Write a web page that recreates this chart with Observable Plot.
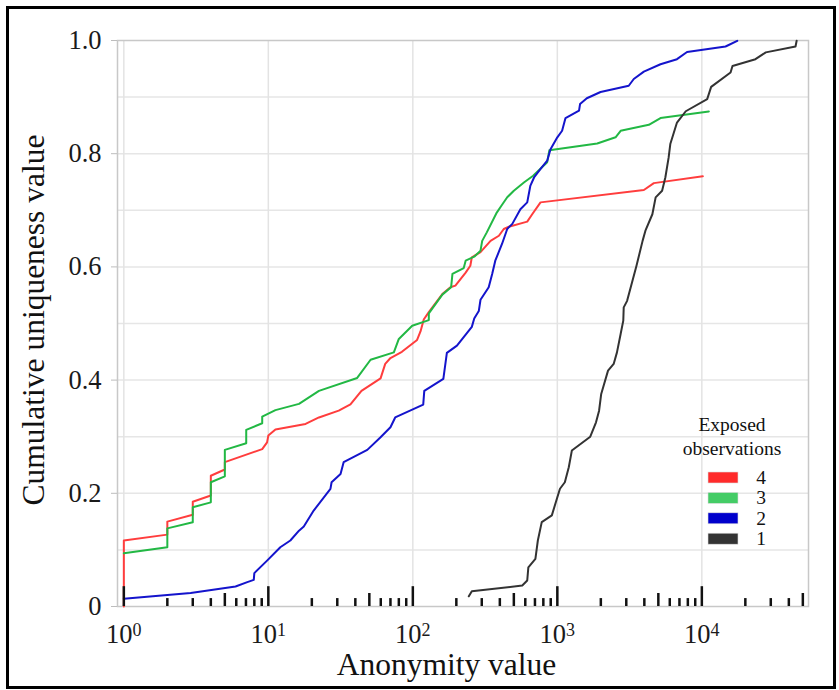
<!DOCTYPE html>
<html><head><meta charset="utf-8">
<script src="https://cdn.jsdelivr.net/npm/d3@7"></script>
<script src="https://cdn.jsdelivr.net/npm/@observablehq/plot@0.6"></script>
<style>body{margin:0;background:#fff} svg{display:block}</style>
</head><body><div id="chart"></div>
<script>
// ---- data ----
const seriesNames = ["4", "3", "2", "1"];
const lineColors = ["#ff3d3d", "#22b844", "#1414cc", "#333333"];
const swatchColors = ["#ff2a2a", "#44cc66", "#0000cc", "#333333"];

const s4x = [1, 1, 2, 2, 3, 3, 4, 4, 5, 5, 9.07, 9.8, 10, 11.2, 18.1, 22.4, 30.7, 37, 44.1, 59.8, 64.4, 70, 84, 107, 113, 119, 129, 160, 182, 197, 232, 250, 256, 294, 345, 394, 426, 462, 619, 670, 765, 3970, 4655, 10160];
const s4y = [0, 0.1165, 0.127, 0.150, 0.162, 0.185, 0.196, 0.231, 0.242, 0.255, 0.278, 0.290, 0.302, 0.3126, 0.3226, 0.334, 0.346, 0.357, 0.381, 0.403, 0.4286, 0.439, 0.450, 0.471, 0.486, 0.507, 0.520, 0.552, 0.564, 0.567, 0.590, 0.602, 0.617, 0.626, 0.646, 0.655, 0.667, 0.671, 0.680, 0.693, 0.714, 0.7358, 0.748, 0.760];

const s3x = [1, 2, 2, 3, 3, 4, 4, 5, 5, 7.03, 7.03, 9.07, 9.07, 11.2, 16.3, 22.4, 41.2, 51, 73.9, 80, 99, 129, 129, 160, 184, 188, 225, 232, 266, 294, 302, 325, 381, 410, 450, 500, 587, 680, 851, 880, 1888, 2529, 2742, 4297, 5175, 11180];
const s3y = [0.094, 0.1047, 0.138, 0.149, 0.1753, 0.184, 0.2195, 0.230, 0.2767, 0.2884, 0.312, 0.3237, 0.3355, 0.347, 0.358, 0.381, 0.4038, 0.436, 0.449, 0.4727, 0.496, 0.506, 0.518, 0.551, 0.564, 0.5875, 0.598, 0.611, 0.618, 0.6287, 0.646, 0.661, 0.696, 0.708, 0.723, 0.7346, 0.749, 0.761, 0.785, 0.806, 0.818, 0.829, 0.8405, 0.851, 0.863, 0.8746];

const s2x = [1, 2.9, 5.93, 7.15, 7.93, 8, 9.8, 12.1, 14.2, 16.3, 17.6, 20.6, 26.9, 27.4, 31.6, 33.2, 48.4, 59.8, 70, 75.5, 118, 120, 162.6, 172, 202, 256, 266, 286, 294, 335, 354, 372, 414, 450, 488, 555, 619, 650, 690, 780, 851, 897, 1000, 1079, 1139, 1413, 1436, 1600, 1991, 3120, 3380, 3970, 5175, 6730, 7900, 14590, 17580];
const s2y = [0.0136, 0.024, 0.0353, 0.043, 0.047, 0.059, 0.081, 0.1047, 0.1166, 0.134, 0.1413, 0.1695, 0.2078, 0.2195, 0.234, 0.255, 0.2767, 0.299, 0.3166, 0.334, 0.3567, 0.381, 0.402, 0.448, 0.461, 0.494, 0.509, 0.522, 0.542, 0.564, 0.5875, 0.611, 0.6405, 0.667, 0.676, 0.702, 0.714, 0.743, 0.758, 0.7757, 0.7876, 0.808, 0.829, 0.8405, 0.863, 0.876, 0.8877, 0.898, 0.909, 0.920, 0.932, 0.945, 0.958, 0.967, 0.9796, 0.9894, 0.9995];

const s1x = [244, 256, 572, 619, 630, 705, 733, 780, 916, 1000, 1043, 1127, 1200, 1260, 1690, 1852, 1945, 2012, 2243, 2454, 2586, 2742, 2860, 2880, 3040, 3530, 3890, 4070, 4546, 4790, 5310, 5590, 5890, 6050, 6730, 7740, 10890, 11600, 15800, 16300, 23500, 27700, 44500, 45300];
const s1y = [0.018, 0.027, 0.037, 0.046, 0.069, 0.084, 0.1166, 0.149, 0.161, 0.193, 0.208, 0.2195, 0.246, 0.2755, 0.300, 0.3255, 0.346, 0.3756, 0.4167, 0.4286, 0.449, 0.4815, 0.505, 0.5285, 0.540, 0.602, 0.646, 0.664, 0.693, 0.7228, 0.7346, 0.758, 0.793, 0.817, 0.855, 0.875, 0.8965, 0.918, 0.9435, 0.955, 0.967, 0.979, 0.9894, 0.9995];

const yTicks = [0, 0.2, 0.4, 0.6, 0.8, 1.0];
const yGrid = [0.1, 0.2, 0.3, 0.4, 0.5, 0.6, 0.7, 0.8, 0.9];
const xTicks = [1, 10, 100, 1000, 10000];
const rugMajor = [1, 10, 100, 1000, 10000];
const rugMid = [5, 50, 500, 5000, 50000];
const rugMinor = [2, 3, 4, 6, 7, 8, 9, 20, 30, 40, 60, 70, 80, 90, 200, 300, 400, 600, 700, 800, 900, 2000, 3000, 4000, 6000, 7000, 8000, 9000, 20000, 30000, 40000];

// ---- build table ----
const seriesX = [s4x, s3x, s2x, s1x];
const seriesY = [s4y, s3y, s2y, s1y];
const rows = [];
seriesNames.forEach((name, k) => {
  seriesX[k].forEach((x, i) => rows.push({series: name, x, y: seriesY[k][i]}));
});

const serif = "'Liberation Serif', 'Times New Roman', serif";

const plot = Plot.plot({
  width: 839,
  height: 690,
  marginLeft: 117,
  marginRight: 31,
  marginTop: 40,
  marginBottom: 84,
  style: {fontFamily: serif, fontSize: "26.5px", color: "#1a1a1a", background: "#fff"},
  x: {type: "log", domain: [0.904, 54720]},
  y: {domain: [0, 1]},
  color: {domain: seriesNames, range: lineColors},
  marks: [
    Plot.ruleY(yGrid, {stroke: "#e6e6e6", strokeWidth: 1.5}),
    Plot.ruleX(xTicks, {stroke: "#e3e3e3", strokeWidth: 1.5}),
    Plot.frame({stroke: "#c8c8c8", strokeWidth: 1.5}),
    Plot.axisY({ticks: yTicks, tickSize: 6, tickPadding: 10, stroke: "#bdbdbd",
      tickFormat: d => d === 0 ? "0" : d.toFixed(1), label: null}),
    Plot.axisX({ticks: xTicks, tickSize: 0, tickPadding: 18,
      tickFormat: d => "10|" + Math.round(Math.log10(d)), label: null}),
    Plot.line(rows, {x: "x", y: "y", z: "series", stroke: "series", strokeWidth: 2, strokeLinejoin: "round"}),
    Plot.ruleX(rugMajor, {x: d => d, y1: 0, y2: 0.035, stroke: "#111", strokeWidth: 2.5}),
    Plot.ruleX(rugMid, {x: d => d, y1: 0, y2: 0.023, stroke: "#111", strokeWidth: 2.5}),
    Plot.ruleX(rugMinor, {x: d => d, y1: 0, y2: 0.014, stroke: "#111", strokeWidth: 2.5})
  ]
});
document.getElementById("chart").appendChild(plot);

const svg = d3.select(plot);

// superscript tick labels 10^k
svg.selectAll('[aria-label="x-axis tick label"] text').each(function() {
  const t = d3.select(this);
  const parts = t.text().split("|");
  t.text(parts[0]);
  t.append("tspan").attr("dy", "-0.42em").attr("font-size", "18px").text(parts[1]);
});

// axis titles
svg.append("text")
  .attr("transform", "translate(43.5,320) rotate(-90)")
  .attr("text-anchor", "middle")
  .attr("font-family", serif).attr("font-size", 31.5).attr("fill", "#111")
  .text("Cumulative uniqueness value");
svg.append("text")
  .attr("x", 446.5).attr("y", 675)
  .attr("text-anchor", "middle")
  .attr("font-family", serif).attr("font-size", 31.5).attr("fill", "#111")
  .text("Anonymity value");

// legend
const lg = svg.append("g").attr("font-family", serif).attr("fill", "#111");
lg.append("text").attr("x", 732).attr("y", 431).attr("text-anchor", "middle").attr("font-size", 19.5).text("Exposed");
lg.append("text").attr("x", 732).attr("y", 455).attr("text-anchor", "middle").attr("font-size", 19.5).text("observations");
seriesNames.forEach((name, i) => {
  const y0 = 472 + i * 20.4;
  lg.append("rect").attr("x", 708).attr("y", y0).attr("width", 30).attr("height", 11)
    .attr("fill", swatchColors[i]).attr("stroke", "#ddd").attr("stroke-width", 0.6);
  lg.append("text").attr("x", 761).attr("y", y0 + 12).attr("text-anchor", "middle").attr("font-size", 19.5).text(name);
});

// outer border
svg.append("rect").attr("x", 7.5).attr("y", 7.5).attr("width", 827).attr("height", 680)
  .attr("fill", "none").attr("stroke", "#000").attr("stroke-width", 3);
</script>
</body></html>
